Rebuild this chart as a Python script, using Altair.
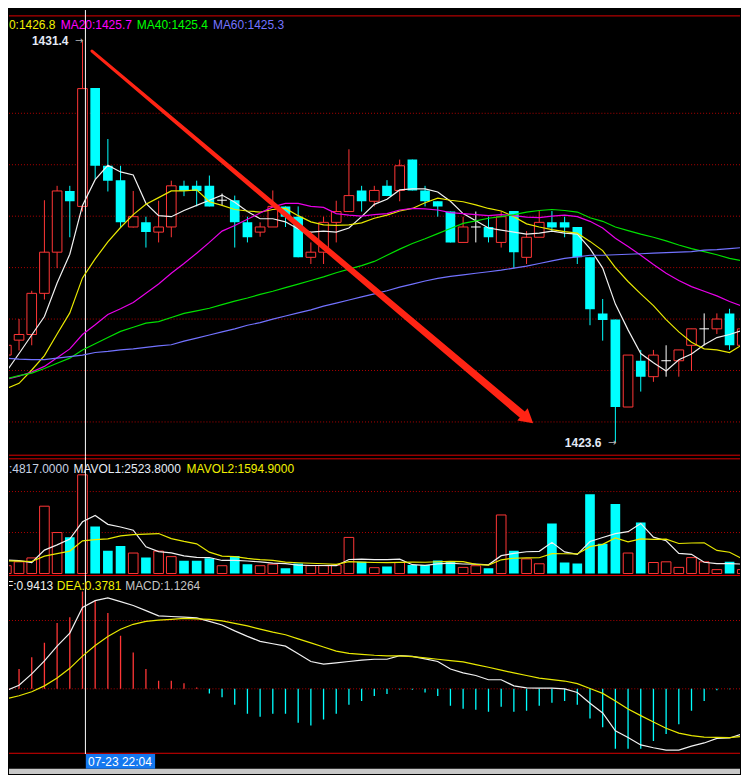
import altair as alt
import pandas as pd

# ---------------- data ----------------
open_ = [1425.30, 1425.59, 1425.70, 1426.50, 1427.30, 1428.49, 1428.19, 1430.49, 1428.98, 1428.70,
         1427.79, 1427.88, 1427.69, 1427.79, 1428.59, 1428.59, 1428.59, 1428.31, 1428.31, 1427.88,
         1427.69, 1427.79, 1428.19, 1427.99, 1427.20, 1427.30, 1427.88, 1428.09, 1428.50, 1428.29,
         1428.59, 1428.50, 1429.10, 1428.50, 1428.29, 1428.09, 1427.49, 1427.79, 1427.79, 1427.49,
         1428.10, 1427.20, 1427.59, 1427.88, 1427.88, 1427.79, 1427.20, 1426.11, 1425.99, 1424.29,
         1425.19, 1424.88, 1425.19, 1425.19, 1425.49, 1425.81, 1425.81, 1426.11, 1425.49]
high = [1425.49, 1426.00, 1426.55, 1428.31, 1428.59, 1428.59, 1431.40, 1430.49, 1429.50, 1428.98,
        1428.49, 1427.99, 1428.30, 1428.69, 1428.69, 1428.69, 1428.79, 1428.44, 1428.40, 1427.99,
        1427.88, 1428.50, 1428.19, 1428.19, 1427.49, 1427.99, 1428.30, 1429.30, 1428.59, 1428.59,
        1428.70, 1429.10, 1429.10, 1428.59, 1428.29, 1428.09, 1427.99, 1428.09, 1427.99, 1428.09,
        1428.10, 1427.71, 1428.10, 1428.10, 1427.99, 1427.79, 1427.20, 1426.39, 1425.99, 1425.30,
        1425.40, 1425.40, 1425.49, 1425.40, 1425.81, 1426.11, 1426.11, 1426.20, 1425.90]
low = [1425.30, 1425.39, 1425.49, 1426.38, 1426.99, 1427.59, 1428.09, 1428.72, 1428.48, 1427.77,
       1427.78, 1427.39, 1427.49, 1427.59, 1428.39, 1428.19, 1428.19, 1428.21, 1427.39, 1427.49,
       1427.60, 1427.79, 1427.79, 1427.20, 1427.07, 1427.07, 1427.49, 1428.09, 1428.09, 1428.19,
       1428.39, 1428.29, 1428.50, 1428.19, 1427.99, 1427.49, 1427.49, 1427.49, 1427.49, 1427.39,
       1426.98, 1427.07, 1427.59, 1427.71, 1427.59, 1427.07, 1425.88, 1425.58, 1423.60, 1424.29,
       1424.59, 1424.78, 1424.88, 1424.88, 1424.99, 1425.49, 1425.71, 1425.40, 1425.40]
close = [1425.49, 1425.70, 1426.50, 1427.30, 1428.49, 1428.29, 1430.48, 1428.98, 1428.69, 1427.88,
         1427.99, 1427.69, 1427.79, 1428.59, 1428.49, 1428.49, 1428.19, 1428.31, 1427.88, 1427.59,
         1427.79, 1428.19, 1427.99, 1427.20, 1427.30, 1427.88, 1428.09, 1428.40, 1428.29, 1428.50,
         1428.39, 1428.98, 1428.50, 1428.29, 1428.19, 1427.49, 1427.79, 1427.79, 1427.59, 1427.99,
         1427.30, 1427.59, 1427.88, 1427.78, 1427.78, 1427.20, 1426.19, 1425.98, 1424.29, 1425.30,
         1424.88, 1425.30, 1425.19, 1425.40, 1425.81, 1425.81, 1426.00, 1425.49, 1425.81]
ma5 = [1424.98, 1425.33, 1425.69, 1426.05, 1426.70, 1427.26, 1428.21, 1428.71, 1428.99, 1428.86,
       1428.80, 1428.25, 1428.01, 1427.99, 1428.11, 1428.21, 1428.31, 1428.41, 1428.27, 1428.09,
       1427.95, 1427.95, 1427.89, 1427.75, 1427.69, 1427.71, 1427.69, 1427.77, 1427.99, 1428.23,
       1428.33, 1428.51, 1428.53, 1428.53, 1428.47, 1428.29, 1428.05, 1427.91, 1427.77, 1427.73,
       1427.69, 1427.65, 1427.67, 1427.71, 1427.67, 1427.65, 1427.37, 1426.99, 1426.29, 1425.79,
       1425.33, 1425.15, 1424.99, 1425.21, 1425.32, 1425.50, 1425.64, 1425.70, 1425.78]
ma10 = [1424.65, 1424.75, 1425.01, 1425.29, 1425.71, 1426.12, 1426.80, 1427.17, 1427.50, 1427.78,
        1428.03, 1428.23, 1428.36, 1428.49, 1428.49, 1428.51, 1428.28, 1428.21, 1428.13, 1428.10,
        1428.08, 1428.13, 1428.15, 1428.01, 1427.89, 1427.83, 1427.82, 1427.83, 1427.87, 1427.96,
        1428.02, 1428.10, 1428.15, 1428.26, 1428.35, 1428.31, 1428.28, 1428.22, 1428.15, 1428.10,
        1427.99, 1427.85, 1427.79, 1427.74, 1427.70, 1427.67, 1427.51, 1427.33, 1427.00, 1426.73,
        1426.49, 1426.26, 1425.99, 1425.75, 1425.55, 1425.42, 1425.40, 1425.35, 1425.50]
ma20 = [1424.83, 1424.89, 1424.97, 1425.08, 1425.25, 1425.42, 1425.70, 1425.89, 1426.09, 1426.20,
        1426.32, 1426.50, 1426.68, 1426.89, 1427.08, 1427.28, 1427.49, 1427.71, 1427.82, 1427.94,
        1428.06, 1428.18, 1428.25, 1428.25, 1428.19, 1428.17, 1428.05, 1428.02, 1428.00, 1428.03,
        1428.05, 1428.12, 1428.15, 1428.14, 1428.12, 1428.07, 1428.05, 1428.03, 1428.01, 1428.03,
        1428.01, 1427.98, 1427.97, 1428.00, 1428.02, 1427.99, 1427.90, 1427.77, 1427.57, 1427.41,
        1427.24, 1427.06, 1426.89, 1426.75, 1426.63, 1426.54, 1426.45, 1426.34, 1426.25]
ma40 = [1424.84, 1424.90, 1424.95, 1425.04, 1425.14, 1425.24, 1425.40, 1425.52, 1425.64, 1425.76,
        1425.84, 1425.92, 1425.95, 1426.03, 1426.11, 1426.16, 1426.21, 1426.28, 1426.35, 1426.41,
        1426.48, 1426.54, 1426.61, 1426.68, 1426.75, 1426.82, 1426.90, 1426.97, 1427.04, 1427.12,
        1427.24, 1427.36, 1427.47, 1427.56, 1427.66, 1427.76, 1427.86, 1427.91, 1427.96, 1427.99,
        1428.03, 1428.08, 1428.11, 1428.13, 1428.11, 1428.08, 1427.97, 1427.90, 1427.79, 1427.72,
        1427.65, 1427.59, 1427.52, 1427.44, 1427.37, 1427.31, 1427.25, 1427.18, 1427.13]
ma60 = [1425.24, 1425.22, 1425.21, 1425.21, 1425.24, 1425.27, 1425.30, 1425.35, 1425.37, 1425.40,
        1425.42, 1425.45, 1425.48, 1425.50, 1425.57, 1425.63, 1425.69, 1425.75, 1425.81, 1425.88,
        1425.93, 1426.00, 1426.06, 1426.12, 1426.18, 1426.25, 1426.31, 1426.37, 1426.43, 1426.49,
        1426.55, 1426.62, 1426.68, 1426.74, 1426.79, 1426.83, 1426.86, 1426.89, 1426.92, 1426.95,
        1426.99, 1427.03, 1427.08, 1427.13, 1427.18, 1427.21, 1427.24, 1427.24, 1427.25, 1427.26,
        1427.27, 1427.28, 1427.29, 1427.30, 1427.31, 1427.34, 1427.35, 1427.37, 1427.39]
vol = [381, 571, 762, 3286, 2000, 1776, 4817, 2300, 1110, 1348,
       1000, 776, 1095, 824, 619, 619, 743, 381, 857, 457,
       381, 457, 252, 490, 381, 381, 410, 1762, 571, 286,
       348, 538, 410, 410, 633, 571, 300, 381, 252, 2857,
       1110, 714, 476, 2443, 538, 490, 3871, 1457, 3395, 1000,
       2490, 538, 571, 300, 776, 571, 190, 571, 190]
mavol1 = [657, 633, 538, 1143, 1400, 1679, 2523.8, 2836, 2401, 2270,
          2115, 1307, 1066, 1009, 863, 787, 780, 637, 644, 611,
          564, 507, 481, 407, 392, 392, 383, 685, 701, 682,
          675, 701, 431, 398, 468, 512, 465, 459, 427, 872,
          980, 1063, 1082, 1520, 1056, 932, 1564, 1760, 1950, 2043,
          2443, 1776, 1599, 980, 935, 551, 482, 482, 460]
mavol2 = [619, 605, 586, 848, 967, 1095, 1594.9, 1657, 1695, 1835,
          1897, 1918, 1951, 1705, 1567, 1451, 1043, 852, 826, 737,
          675, 643, 559, 526, 502, 478, 445, 583, 554, 537,
          534, 542, 558, 550, 575, 594, 583, 445, 413, 670,
          746, 764, 770, 974, 964, 956, 1313, 1421, 1735, 1549,
          1687, 1670, 1679, 1465, 1489, 1497, 1129, 1040, 720]
dif = [-0.019, 0.041, 0.173, 0.323, 0.493, 0.644, 0.9413, 1.020, 1.051, 1.009,
       0.964, 0.904, 0.843, 0.836, 0.828, 0.820, 0.780, 0.738, 0.670, 0.606,
       0.549, 0.521, 0.493, 0.405, 0.316, 0.286, 0.301, 0.316, 0.331, 0.342,
       0.342, 0.384, 0.376, 0.346, 0.316, 0.229, 0.184, 0.154, 0.105, 0.105,
       0.034, 0.011, 0.007, 0.007, 0.000, -0.042, -0.166, -0.279, -0.486, -0.562,
       -0.649, -0.682, -0.708, -0.708, -0.663, -0.626, -0.573, -0.569, -0.522]
dea = [-0.115, -0.080, -0.034, 0.034, 0.124, 0.237, 0.3781, 0.501, 0.606, 0.689,
       0.746, 0.780, 0.794, 0.803, 0.814, 0.808, 0.802, 0.786, 0.757, 0.727,
       0.690, 0.655, 0.625, 0.577, 0.531, 0.484, 0.436, 0.410, 0.398, 0.388,
       0.382, 0.380, 0.373, 0.357, 0.342, 0.327, 0.312, 0.280, 0.249, 0.216,
       0.184, 0.154, 0.124, 0.107, 0.090, 0.060, 0.003, -0.053, -0.140, -0.234,
       -0.310, -0.384, -0.456, -0.513, -0.542, -0.558, -0.562, -0.565, -0.550]
macd = [0.19, 0.229, 0.365, 0.534, 0.760, 0.828, 1.1264, 1.020, 0.877, 0.614,
        0.421, 0.229, 0.094, 0.094, 0.063, 0.015, -0.053, -0.098, -0.185, -0.287,
        -0.324, -0.287, -0.287, -0.392, -0.423, -0.355, -0.287, -0.185, -0.140, -0.083,
        -0.061, -0.008, -0.010, -0.042, -0.083, -0.196, -0.230, -0.242, -0.264, -0.208,
        -0.264, -0.253, -0.196, -0.162, -0.140, -0.185, -0.343, -0.445, -0.694, -0.694,
        -0.694, -0.603, -0.524, -0.411, -0.253, -0.140, -0.016, -0.005, 0.05]

cursor = 6                      # candle under the crosshair
cursor_time = "07-23 22:04"
price_grid = [1424, 1425, 1426, 1427, 1428, 1429, 1430]
vol_grid = [2000, 4000]
macd_grid = [0.0, 0.79]
arrow_i = [6.75, 40.82]
arrow_p = [1431.21, 1424.11]
arrow_w = [3, 8]
arrow_head_i = [41.10]
arrow_head_p = [1424.06]

# ---------------- layout / style ----------------
W = 733
SX = 733 / 749
SY = 766 / 782
H1, H2, H3, H4 = 448, 118, 180, 20
X_DOM = [0.208, 57.823]
P_DOM = [1423.322, 1432.007]
V_DOM = [-47.6, 5695]
M_DOM = [-0.754, 1.322]

RED = "#ff3636"
CYAN = "#00ffff"
GRID = "#b00000"
BORDER = "#dc0000"
ARROW = "#ff2414"
FONT = "Liberation Sans"

n = len(close)
df = pd.DataFrame({
    "i": list(range(n)), "open": open_, "high": high, "low": low, "close": close,
    "ma5": ma5, "ma10": ma10, "ma20": ma20, "ma40": ma40, "ma60": ma60,
    "vol": vol, "mavol1": mavol1, "mavol2": mavol2,
    "dif": dif, "dea": dea, "macd": macd,
})
df["dir"] = ["up" if c > o else ("down" if c < o else "flat") for o, c in zip(open_, close)]
df["x0"] = df["i"] - 0.38
df["x1"] = df["i"] + 0.38
df["zero"] = 0.0

one = pd.DataFrame({"k": [0]})
xs = alt.Scale(domain=X_DOM, nice=False, zero=False)
ps = alt.Scale(domain=P_DOM, nice=False, zero=False)
vs = alt.Scale(domain=V_DOM, nice=False, zero=False)
ms = alt.Scale(domain=M_DOM, nice=False, zero=False)


def X(f="i"):
    return alt.X(f"{f}:Q", scale=xs, axis=None)


def hline(py, color=BORDER, w=1.0):
    return alt.Chart(one).mark_rule(color=color, strokeWidth=w).encode(
        x=alt.value(0), x2=alt.value(W), y=alt.value(py))


def txt(s, px, py, color, size=12, weight="normal"):
    return alt.Chart(one).mark_text(
        text=s, align="left", baseline="middle", font=FONT, fontSize=size,
        fontWeight=weight, color=color, clip=True,
    ).encode(x=alt.value(px), y=alt.value(py))


def grid(values, yscale):
    return alt.Chart(pd.DataFrame({"g": values})).mark_rule(
        color=GRID, strokeDash=[1, 2], strokeWidth=1).encode(
        y=alt.Y("g:Q", scale=yscale, axis=None))


def line(field, color, yscale, w=1.2):
    return alt.Chart(df).mark_line(color=color, strokeWidth=w, clip=True).encode(
        x=X(), y=alt.Y(f"{field}:Q", scale=yscale, axis=None))


def crosshair():
    return alt.Chart(pd.DataFrame({"i": [cursor + 3 / 13]})).mark_rule(
        color="white", strokeWidth=1).encode(x=X())


# ---------------- price panel ----------------
wicks = alt.Chart(df).mark_rule(strokeWidth=1, clip=True).encode(
    x=X(), y=alt.Y("low:Q", scale=ps, axis=None), y2="high:Q",
    color=alt.Color("dir:N", scale=alt.Scale(domain=["up", "down", "flat"],
                                             range=[RED, CYAN, "white"]), legend=None))
up_body = alt.Chart(df).transform_filter("datum.dir == 'up'").mark_rect(
    fill="black", stroke=RED, strokeWidth=1, clip=True).encode(
    x=X("x0"), x2="x1:Q", y=alt.Y("open:Q", scale=ps, axis=None), y2="close:Q")
down_body = alt.Chart(df).transform_filter("datum.dir == 'down'").mark_rect(
    fill=CYAN, clip=True).encode(
    x=X("x0"), x2="x1:Q", y=alt.Y("open:Q", scale=ps, axis=None), y2="close:Q")
flat_body = alt.Chart(df).transform_filter("datum.dir == 'flat'").mark_rule(
    color="white", strokeWidth=1, clip=True).encode(
    x=X("x0"), x2="x1:Q", y=alt.Y("open:Q", scale=ps, axis=None))

hi_i = high.index(max(high))
lo_i = low.index(min(low))
extremes = pd.DataFrame({"i": [hi_i, lo_i], "p": [high[hi_i], low[lo_i]],
                         "t": [f"{high[hi_i]:.1f}", f"{low[lo_i]:.1f}"]})
ext_text = alt.Chart(extremes).mark_text(
    align="right", baseline="middle", dx=-14, font=FONT, fontSize=12,
    fontWeight="bold", color="#e4eaf6").encode(
    x=X(), y=alt.Y("p:Q", scale=ps, axis=None), text="t:N")
ext_arrow = alt.Chart(extremes).mark_text(
    text="→", align="right", baseline="middle", dx=1, font="DejaVu Sans",
    fontSize=10, color="#b8b8b8").encode(x=X(), y=alt.Y("p:Q", scale=ps, axis=None))

shaft = alt.Chart(pd.DataFrame({"i": arrow_i, "p": arrow_p, "w": arrow_w})).mark_trail(
    color=ARROW, clip=True).encode(
    x=X(), y=alt.Y("p:Q", scale=ps, axis=None),
    size=alt.Size("w:Q", scale=None, legend=None), order="i:Q")
head = alt.Chart(pd.DataFrame({"i": arrow_head_i, "p": arrow_head_p})).mark_point(
    shape="triangle-right", filled=True, size=260, angle=40, color=ARROW, opacity=1).encode(
    x=X(), y=alt.Y("p:Q", scale=ps, axis=None))

price = alt.layer(
    grid(price_grid, ps),
    hline(6 * SY), hline(455.7 * SY),
    wicks, up_body, down_body, flat_body,
    crosshair(),
    line("ma5", "#f0f0f0", ps), line("ma10", "#e8e800", ps), line("ma20", "#e800e8", ps),
    line("ma40", "#00e000", ps), line("ma60", "#7272ff", ps),
    ext_text, ext_arrow, shaft, head,
    txt(f"MA10:{ma10[cursor]:.1f}", -24.7, 15.4, "#f0f000"),
    txt(f"MA20:{ma20[cursor]:.1f}", 51.9, 15.4, "#ff00ff"),
    txt(f"MA40:{ma40[cursor]:.1f}", 128.2, 15.4, "#00ff00"),
    txt(f"MA60:{ma60[cursor]:.1f}", 204.5, 15.4, "#7474ff"),
).properties(width=W, height=H1)

# ---------------- volume panel ----------------
vol_up = alt.Chart(df).transform_filter("datum.dir != 'down'").mark_rect(
    fill="black", stroke=RED, strokeWidth=1, clip=True).encode(
    x=X("x0"), x2="x1:Q", y=alt.Y("vol:Q", scale=vs, axis=None), y2="zero:Q")
vol_dn = alt.Chart(df).transform_filter("datum.dir == 'down'").mark_rect(
    fill=CYAN, clip=True).encode(
    x=X("x0"), x2="x1:Q", y=alt.Y("vol:Q", scale=vs, axis=None), y2="zero:Q")

volume = alt.layer(
    grid(vol_grid, vs),
    hline(2.0),
    vol_up, vol_dn,
    crosshair(),
    line("mavol1", "#f0f0f0", vs), line("mavol2", "#e8e800", vs),
    txt(f"VOL:{vol[cursor]:.4f}", -24.0, 12.0, "#c8d2e2"),
    txt(f"MAVOL1:{mavol1[cursor]:.4f}", 64.6, 12.0, "#e6ecf6"),
    txt(f"MAVOL2:{mavol2[cursor]:.4f}", 178.1, 12.0, "#f0f000"),
).properties(width=W, height=H2)

# ---------------- MACD panel ----------------
hist = alt.Chart(df).mark_rule(strokeWidth=1.3, clip=True).encode(
    x=X(), y=alt.Y("macd:Q", scale=ms, axis=None), y2="zero:Q",
    color=alt.condition("datum.macd >= 0", alt.value(RED), alt.value(CYAN)))

macd_panel = alt.layer(
    grid(macd_grid, ms),
    hline(1.0), hline((761.3 - 578.3) * SY),
    hist,
    crosshair(),
    line("dif", "#f0f0f0", ms), line("dea", "#e8e800", ms),
    txt(f"DIF:{dif[cursor]:.4f}", -15.0, 11.5, "#f0f0f0"),
    txt(f"DEA:{dea[cursor]:.4f}", 48.0, 11.5, "#f0f000"),
    txt(f"MACD:{macd[cursor]:.4f}", 116.5, 11.5, "#c4c4c4"),
).properties(width=W, height=H3)

# ---------------- time strip ----------------
strip = alt.layer(
    alt.Chart(one).mark_rect(color="#c8c8c8").encode(
        x=alt.value(0), x2=alt.value(W), y=alt.value(14.7), y2=alt.value(H4)),
    alt.Chart(one).mark_rect(color="#1478f0").encode(
        x=alt.value(78.7 * SX), x2=alt.value(149.7 * SX), y=alt.value(0), y2=alt.value(14.7)),
    txt(cursor_time, 81 * SX, 7.6, "white"),
).properties(width=W, height=H4)

chart = alt.vconcat(
    price, volume, macd_panel, strip, spacing=0, bounds="flush",
    padding=0, background="black",
).configure_view(stroke=None)

chart.save("out.html", embed_options={"renderer": "svg", "actions": False})
